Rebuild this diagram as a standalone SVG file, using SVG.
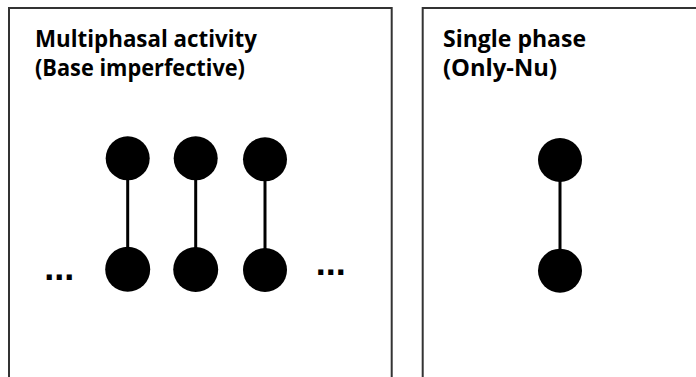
<svg xmlns="http://www.w3.org/2000/svg" width="696" height="377" viewBox="0 0 696 377">
  <style>
    .panel { fill: none; stroke: #333333; stroke-width: 2; }
    .title { font-family: "Open Sans", "Liberation Sans", sans-serif; font-weight: bold; font-size: 23px; fill: #000000; }
    .dots { font-family: "Liberation Sans", Arial, sans-serif; font-weight: bold; font-size: 36px; fill: #000000; text-anchor: middle; }
    .node { fill: #000000; }
    .link { stroke: #000000; stroke-width: 3; }
  </style>
  <rect width="696" height="377" fill="#ffffff"/>

  <!-- Panels (open at the bottom) -->
  <g id="panel-multiphasal">
    <path class="panel" d="M9,378 V8 H391.7 V378"/>
    <text class="title" x="35" y="47" textLength="222" lengthAdjust="spacingAndGlyphs">Multiphasal activity</text>
    <text class="title" x="35" y="76" textLength="210" lengthAdjust="spacingAndGlyphs">(Base imperfective)</text>
    <text class="dots" x="59.3" y="279.5">...</text>
    <text class="dots" x="330.8" y="274.5">...</text>
  </g>
  <g id="panel-single">
    <path class="panel" d="M422.7,378 V8 H697"/>
    <text class="title" x="443" y="47" textLength="143" lengthAdjust="spacingAndGlyphs">Single phase</text>
    <text class="title" x="443" y="76" textLength="114" lengthAdjust="spacingAndGlyphs">(Only-Nu)</text>
  </g>

  <!-- Connectors -->
  <g id="connectors">
    <line class="link" x1="127.7" y1="158.3" x2="127.7" y2="269.3"/>
    <line class="link" x1="195.7" y1="158.3" x2="195.7" y2="269.5"/>
    <line class="link" x1="265" y1="159.3" x2="265" y2="270"/>
    <line class="link" x1="560" y1="160" x2="560" y2="270.7"/>
  </g>

  <!-- Nodes -->
  <g id="n1-top"><circle class="node" cx="127.7" cy="158.3" r="22"/></g>
  <g id="n1-bottom"><circle class="node" cx="127.7" cy="269.3" r="22.5"/></g>
  <g id="n2-top"><circle class="node" cx="195.7" cy="158.3" r="22"/></g>
  <g id="n2-bottom"><circle class="node" cx="195.7" cy="269.5" r="22.5"/></g>
  <g id="n3-top"><circle class="node" cx="265" cy="159.3" r="22"/></g>
  <g id="n3-bottom"><circle class="node" cx="265" cy="270" r="22"/></g>
  <g id="s-top"><circle class="node" cx="560" cy="160" r="22"/></g>
  <g id="s-bottom"><circle class="node" cx="560" cy="270.7" r="22"/></g>
</svg>
